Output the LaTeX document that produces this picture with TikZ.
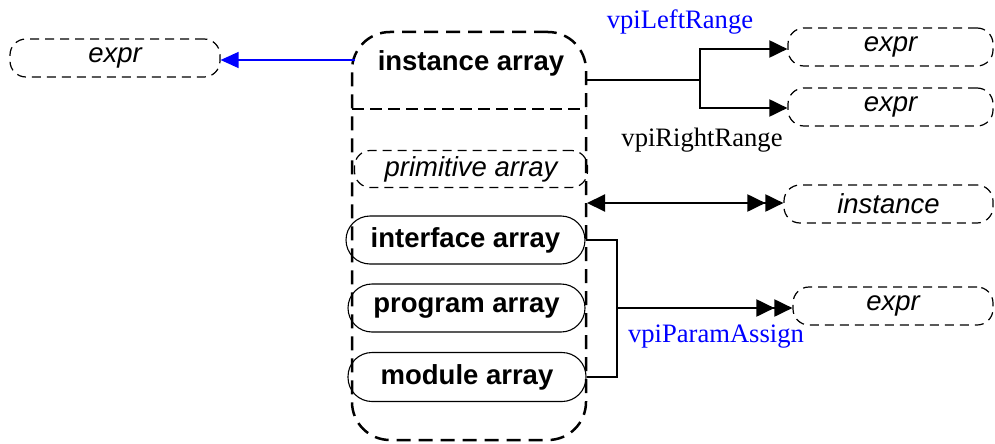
\documentclass[tikz,border=0pt]{standalone}
\usepackage{fontspec}
\setmainfont{Liberation Serif}
\setsansfont{Liberation Sans}
\usetikzlibrary{arrows.meta}
\begin{document}
\begin{tikzpicture}[x=1pt,y=-1pt,
  dbox/.style={draw, dash pattern=on 9pt off 6pt, line width=1.2pt, rounded corners=16pt,
    minimum height=38pt, inner sep=0pt, font=\fontsize{27.5}{32}\selectfont\sffamily\itshape},
  pill/.style={draw, line width=1.1pt, rounded corners=24pt, minimum height=48pt,
    inner sep=0pt, font=\fontsize{27.5}{32}\selectfont\sffamily\bfseries},
  conn/.style={line width=2pt},
  tri/.tip={Triangle[length=18pt,width=17pt]},
  lbl/.style={font=\fontsize{26.6}{31}\selectfont, inner sep=0pt}
]
\useasboundingbox (0,0) rectangle (995,444);

% container
\node[draw, dash pattern=on 14pt off 8pt, line width=2.5pt, rounded corners=38pt,
  minimum width=234pt, minimum height=408pt] (cont) at (469,236) {};
\coordinate (dl) at (352,109);
\coordinate (dr) at (586,109);
\draw[dash pattern=on 12pt off 6pt, line width=2pt] (dl) -- (dr);

\node[font=\fontsize{27.5}{32}\selectfont\sffamily\bfseries] (ia) at (471,63) {instance array};
\node[dbox, minimum width=233pt, minimum height=37pt] (pa) at (471,169) {primitive array};
\node[pill, minimum width=239pt] (ifa) at (465.5,240) {interface array};
\node[pill, minimum width=237pt] (pga) at (466.5,308) {program array};
\node[pill, minimum width=238pt, minimum height=49pt] (moda) at (467,377) {module array};

% outer boxes
\node[dbox, minimum width=210pt] (lexpr) at (115,58) {expr};
\node[dbox, minimum width=205pt] (rexpa) at (890.5,47) {expr};
\node[dbox, minimum width=205pt] (rexpb) at (890.5,107) {expr};
\node[dbox, minimum width=209pt] (inst) at (888.5,204) {instance};
\node[dbox, minimum width=200pt] (pexpr) at (893,306) {expr};

% blue arrow
\coordinate (bs) at (355,60);
\draw[blue, line width=1.5pt, -{Triangle[length=18pt,width=16pt]}] (bs) -- (lexpr.east |- bs);

% range connector
\coordinate (s1) at (586,80);
\coordinate (j1) at (700,80);
\draw[conn] (s1) -- (j1);
\draw[conn, -tri] (j1) |- (rexpa.west |- 0,49);
\draw[conn, -tri] (j1) |- (rexpb.west |- 0,108);
\node[lbl, text=blue] (lr) at (680,22) {vpiLeftRange};
\node[lbl] (rr) at (702,140) {vpiRightRange};

% instance arrow
\coordinate (s2) at (587,203);
\draw[conn, tri-{tri[]tri[]}] (s2) -- (inst.west |- s2);

% param assign
\coordinate (j2) at (617,240);
\coordinate (j3) at (617,377);
\coordinate (j4) at (617,308);
\draw[conn] (ifa.east) -- (j2) -- (j3) -- (moda.east);
\draw[conn, -{tri[]tri[]}] (j4) -- (pexpr.west |- j4);
\node[lbl, text=blue] (pas) at (716,337) {vpiParamAssign};
\end{tikzpicture}
\end{document}
